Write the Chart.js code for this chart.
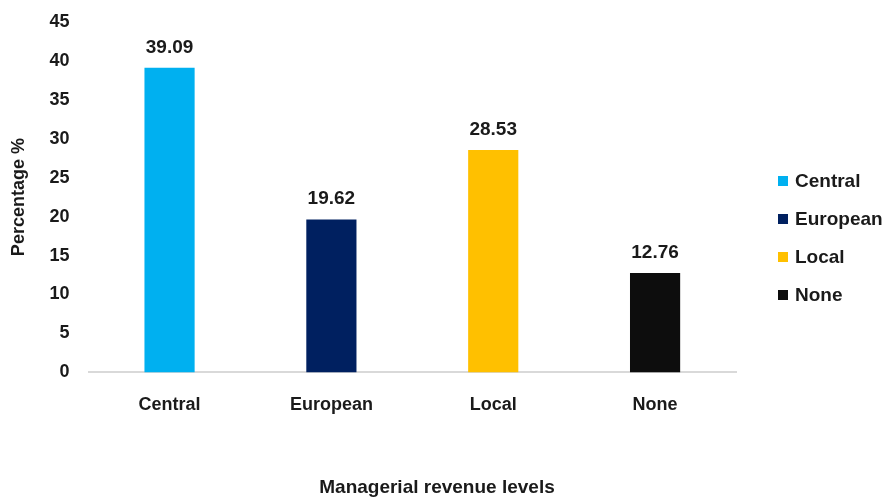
<!DOCTYPE html>
<html>
<head>
<meta charset="utf-8">
<script src="https://cdn.jsdelivr.net/npm/chart.js@4"></script>
<style>
  html, body { margin: 0; padding: 0; background: #fff; }
  #wrap { position: relative; width: 894px; height: 501px; }
  #legend {
    position: absolute; left: 778px; top: 162px;
    font: bold 19px "Liberation Sans", Arial, sans-serif; color: #1a1a1a;
  }
  #legend div { height: 38px; line-height: 38px; white-space: nowrap; }
  #legend span.sw { display: inline-block; width: 10px; height: 10px; margin-right: 7px; vertical-align: 1px; }
  #xTitle {
    position: absolute; left: 287px; width: 300px; top: 475px; text-align: center;
    font: bold 19px "Liberation Sans", Arial, sans-serif; color: #1a1a1a;
    white-space: nowrap; line-height: 24px;
  }
</style>
</head>
<body>
<div id="wrap">
  <canvas id="revenueChart" width="894" height="501"></canvas>
  <div id="legend"></div>
  <div id="xTitle">Managerial revenue levels</div>
</div>
<script>
    // categories and values
    var levels = ['Central', 'European', 'Local', 'None'];
    var percentages = [39.09, 19.62, 28.53, 12.76];
    var barColors = ['#00B0F0', '#002060', '#FFC000', '#0D0D0D'];

    var fontFam = '"Liberation Sans", Arial, sans-serif';

    // value labels above each bar
    var valueLabels = {
        id: 'valueLabels',
        afterDatasetsDraw: function (chart) {
            var ctx = chart.ctx;
            var meta = chart.getDatasetMeta(0);
            ctx.save();
            ctx.font = 'bold 19px ' + fontFam;
            ctx.fillStyle = '#1a1a1a';
            ctx.textAlign = 'center';
            ctx.textBaseline = 'bottom';
            meta.data.forEach(function (bar, i) {
                ctx.fillText(percentages[i].toFixed(2), bar.x, bar.y - 11);
            });
            ctx.restore();
        }
    };

    var ctx = document.getElementById('revenueChart').getContext('2d');
    var chart = new Chart(ctx, {
        type: 'bar',
        data: {
            labels: levels,
            datasets: [{
                label: 'Percentage',
                data: percentages,
                backgroundColor: barColors,
                borderWidth: 0,
                categoryPercentage: 1,
                barPercentage: 0.31
            }]
        },
        options: {
            responsive: false,
            animation: false,
            layout: { padding: { top: 4, left: 8, right: 158, bottom: 71 } },
            plugins: {
                tooltip: { enabled: false },
                legend: { display: false }
            },
            scales: {
                x: {
                    grid: { display: false },
                    border: { display: true, color: '#d9d9d9', width: 2 },
                    ticks: {
                        padding: 14,
                        color: '#1a1a1a',
                        font: { family: fontFam, size: 18, weight: 'bold' }
                    }
                },
                y: {
                    min: 0,
                    max: 45,
                    ticks: {
                        stepSize: 5,
                        padding: 11,
                        color: '#1a1a1a',
                        font: { family: fontFam, size: 18, weight: 'bold' }
                    },
                    grid: { display: false },
                    border: { display: false },
                    title: {
                        display: true,
                        text: 'Percentage %',
                        color: '#1a1a1a',
                        padding: { top: 0, bottom: 9 },
                        font: { family: fontFam, size: 18, weight: 'bold' }
                    }
                }
            }
        },
        plugins: [valueLabels]
    });

    // legend built from the same arrays
    var legendBox = document.getElementById('legend');
    levels.forEach(function (name, i) {
        var row = document.createElement('div');
        var sw = document.createElement('span');
        sw.className = 'sw';
        sw.style.background = barColors[i];
        row.appendChild(sw);
        row.appendChild(document.createTextNode(name));
        legendBox.appendChild(row);
    });
</script>
</body>
</html>
